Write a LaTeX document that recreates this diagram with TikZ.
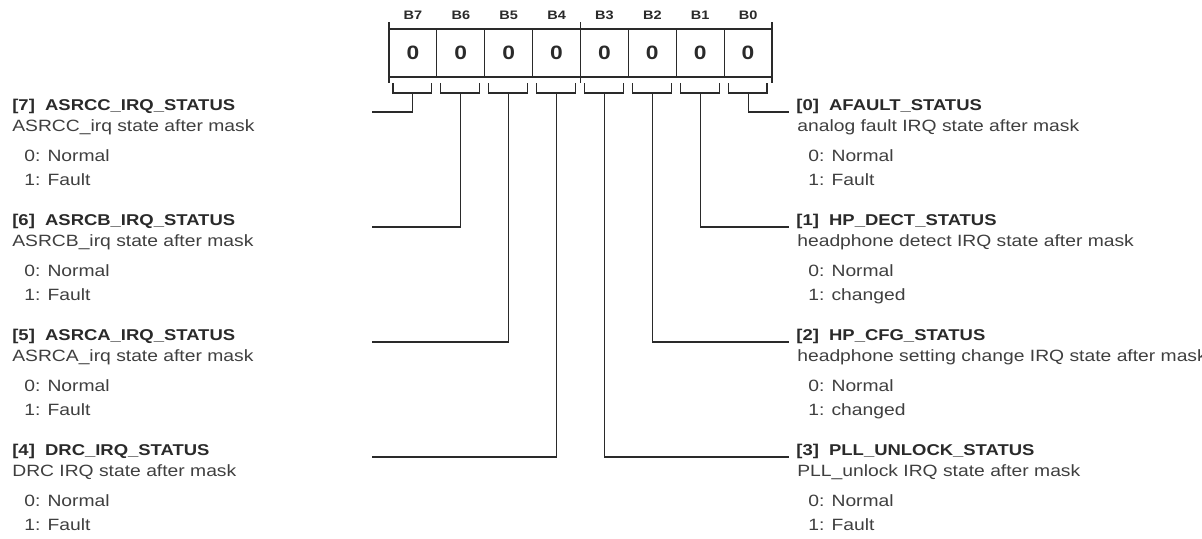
\documentclass[tikz,border=0pt]{standalone}
\usepackage{fontspec}
\setmainfont{Liberation Sans}[FakeStretch=1.18]
\usepackage{xcolor}
\usepackage{tikz}
\usetikzlibrary{positioning,calc}

\definecolor{ink}{HTML}{2A2A2A}

\begin{document}
\begin{tikzpicture}[x=0.02cm, y=0.02cm,
    wire/.style={draw=ink, line width=0.6pt},
    cell/.style={draw=ink, line width=0.6pt, minimum width=0.9575cm, minimum height=0.96cm,
        inner sep=0pt, outer sep=0pt, text=ink, font=\fontsize{11}{11}\selectfont\bfseries},
    bitlbl/.style={anchor=base, inner sep=0pt, text=ink, font=\fontsize{7}{7}\selectfont\bfseries},
    head/.style={anchor=base west, inner sep=0pt, text=ink, font=\fontsize{8.9}{10}\selectfont\bfseries},
    desc/.style={anchor=base west, inner sep=0pt, text=ink!90, font=\fontsize{9.3}{10}\selectfont}]

    % Cadre
    \fill[white] (0,0) rectangle (1202,-538);
    \useasboundingbox (0,0) rectangle (1202,-538);

    % Registre
    \foreach \b in {0,...,7} {
        \node[cell] (c\b) at (748.06-47.875*\b,-53) {0};
        \node[bitlbl] (l\b) at (748.06-47.875*\b,-19) {B\b};
        \draw[wire] ($(c\b.south west)+(4,-6)$) -- ++(0,-10)
            -- ($(c\b.south east)+(-5,-16)$) -- ++(0,10);
        \coordinate (k\b) at ($(c\b.south)+(0,-16)$);
    }

    % Traits de repere
    \draw[wire] ($(c7.north west)+(0,7)$) -- ($(c7.south west)+(0,-6)$);
    \draw[wire] ($(c3.north west)+(0,7)$) -- ($(c3.south west)+(0,-6)$);
    \draw[wire] ($(c0.north east)+(0,7)$) -- ($(c0.south east)+(0,-6)$);

    % Champs a gauche
    \foreach \n/\name/\info/\one in {
        7/ASRCC\_IRQ\_STATUS/ASRCC\_irq state after mask/Fault,
        6/ASRCB\_IRQ\_STATUS/ASRCB\_irq state after mask/Fault,
        5/ASRCA\_IRQ\_STATUS/ASRCA\_irq state after mask/Fault,
        4/DRC\_IRQ\_STATUS/DRC IRQ state after mask/Fault} {
        \pgfmathsetmacro\g{7-\n}
        \node[head] (h\n) at (12,-110-115*\g) {[\n]\ \ \name};
        \node[desc] (d\n) at (12,-131.7-115*\g) {\info};
        \node[desc] (z\n) at (24,-161.7-115*\g) {0: Normal};
        \node[desc] (o\n) at (24,-185.7-115*\g) {1: \one};
        \coordinate (e\n) at (372,-112-115*\g);
        \draw[wire] (k\n) |- (e\n);
    }

    % Champs a droite
    \foreach \n/\name/\info/\one in {
        0/AFAULT\_STATUS/analog fault IRQ state after mask/Fault,
        1/HP\_DECT\_STATUS/headphone detect IRQ state after mask/changed,
        2/HP\_CFG\_STATUS/headphone setting change IRQ state after mask/changed,
        3/PLL\_UNLOCK\_STATUS/PLL\_unlock IRQ state after mask/Fault} {
        \node[head] (h\n) at (796,-110-115*\n) {[\n]\ \ \name};
        \node[desc] (d\n) at (797,-131.7-115*\n) {\info};
        \node[desc] (z\n) at (808,-161.7-115*\n) {0: Normal};
        \node[desc] (o\n) at (808,-185.7-115*\n) {1: \one};
        \coordinate (e\n) at (789,-112-115*\n);
        \draw[wire] (k\n) |- (e\n);
    }
\end{tikzpicture}
\end{document}
